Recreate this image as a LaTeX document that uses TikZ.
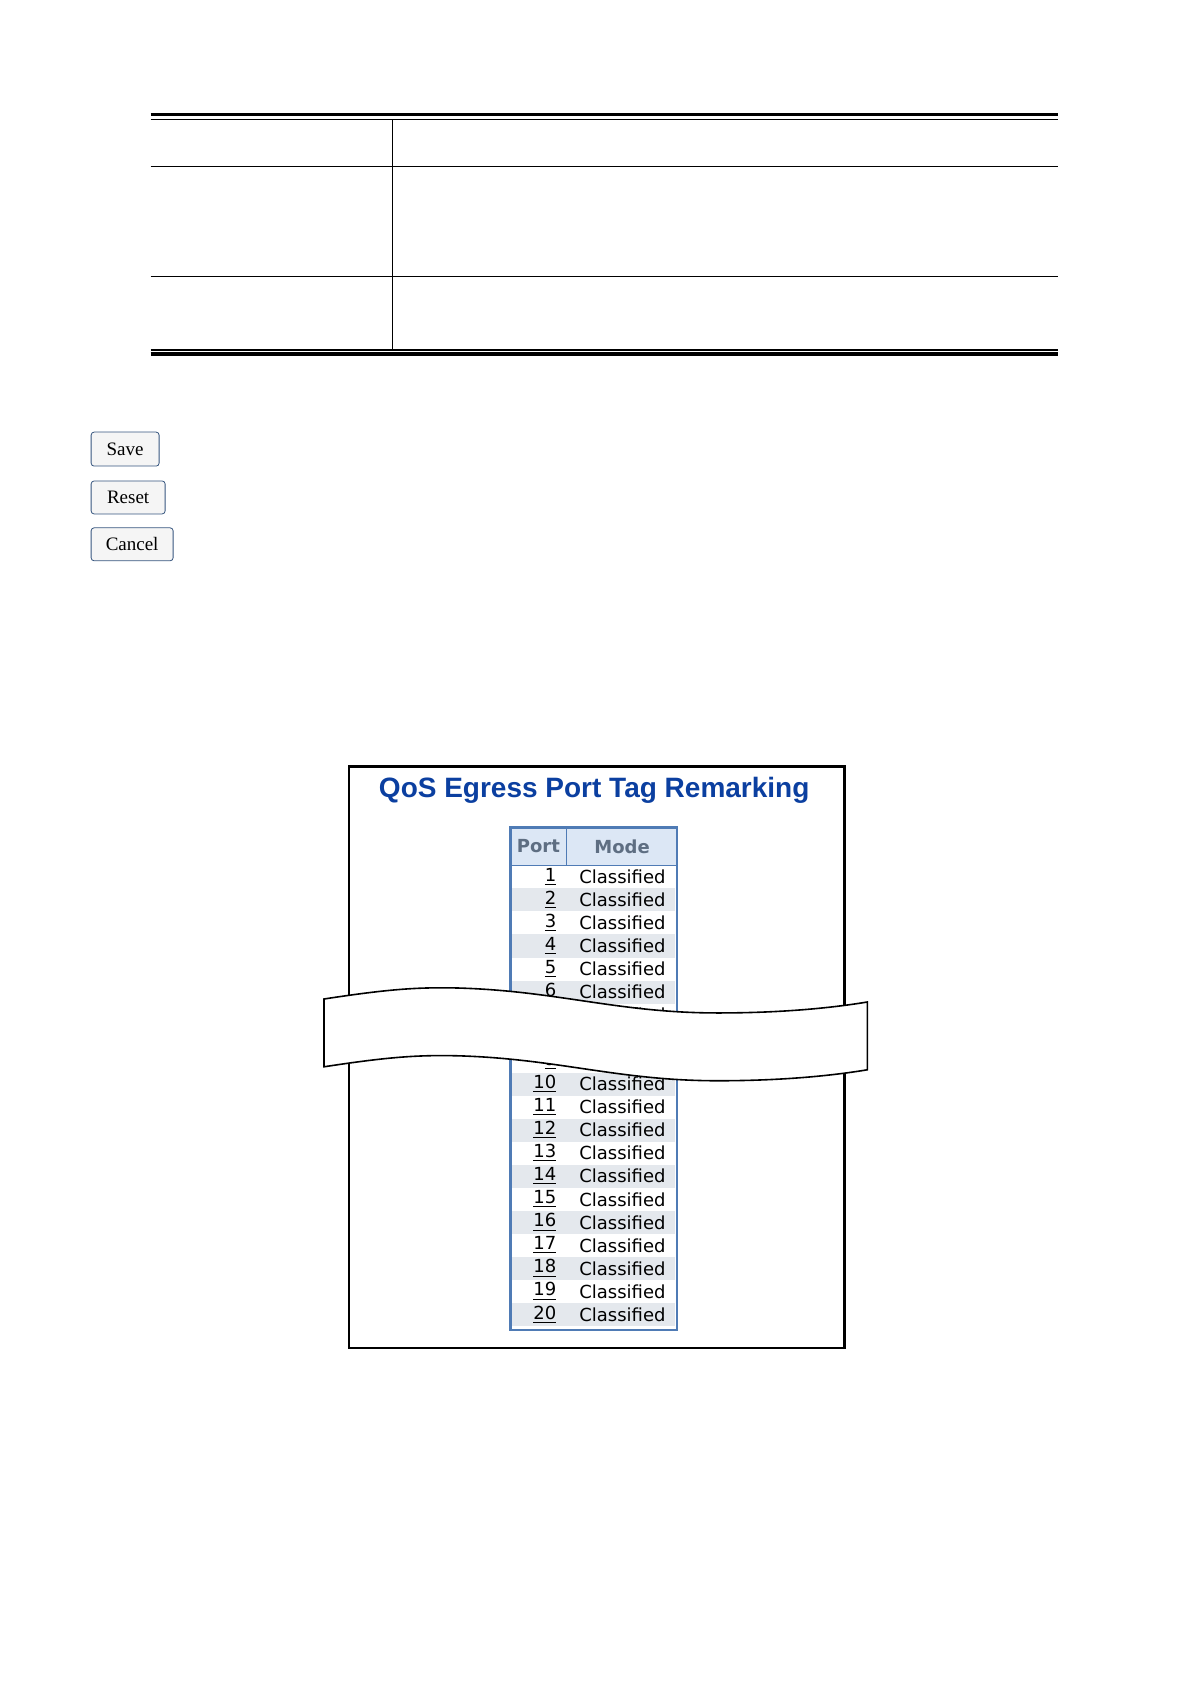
\documentclass[tikz,border=0pt]{standalone}
\usepackage{fontspec}
\setmainfont{Liberation Sans}
\newfontfamily\webfont{DejaVu Sans}
\newfontfamily\btnfont{Liberation Serif}
\usetikzlibrary{positioning}
\definecolor{qosblue}{HTML}{0B3FA0}
\definecolor{gridblue}{HTML}{4F7BB5}
\definecolor{headfill}{HTML}{DCE7F5}
\definecolor{rowgray}{HTML}{E4E8ED}
\definecolor{headtext}{HTML}{5E6E82}
\tikzset{
  btn/.style={draw=gridblue!70!black, fill=gray!8, rounded corners=1.5pt, anchor=north west,
    inner sep=0pt, font=\btnfont\fontsize{9.5}{10}\selectfont},
  portcell/.style={anchor=east, font=\webfont\fontsize{9}{10}\selectfont},
  modecell/.style={anchor=west, font=\webfont\fontsize{9}{10}\selectfont},
  headcell/.style={font=\webfont\bfseries\fontsize{9}{10}\selectfont, text=headtext}
}
\begin{document}
\begin{tikzpicture}[x=0.5pt,y=-0.5pt]
\useasboundingbox (0,0) rectangle (1191,1684);
\begin{scope}[xscale=0.997,yscale=0.997]
% parameter table
\draw[line width=1.6pt] (151,115) -- (1061,115);
\draw[line width=0.6pt] (151,120) -- (1061,120);
\draw[line width=0.5pt] (151,167) -- (1061,167);
\draw[line width=0.5pt] (151,277) -- (1061,277);
\draw[line width=0.6pt] (151,351) -- (1061,351);
\draw[line width=1.6pt] (151,355) -- (1061,355);
\draw[line width=0.5pt] (394,120) -- (394,351);

% buttons
\node[btn, minimum width=34pt, minimum height=17pt] (save) at (91,433) {Save};
\node[btn, minimum width=37pt, minimum height=16.5pt] (reset) at (91,482) {Reset};
\node[btn, minimum width=41pt, minimum height=16.5pt] (cancel) at (91,529) {Cancel};

% screenshot frame
\draw[line width=1.3pt] (350,769) rectangle (847,1352);
\node[font=\bfseries\fontsize{14}{16}\selectfont, text=qosblue] (title) at (596,793)
  {QoS Egress Port Tag Remarking};

% port table
\fill[headfill] (512,830) rectangle (679,868);
\node[headcell] (porthead) at (540,849) {Port};
\node[headcell] (modehead) at (624,849) {Mode};
\foreach \i in {1,...,20}{
  \pgfmathsetmacro{\yy}{868+(\i-1)*23.1}
  \ifodd\i\else
    \fill[rowgray] (514,\yy) rectangle (677,\yy+23.1);
  \fi
  \node[portcell] (port\i) at (565,\yy+11.5) {\underline{\i}};
  \node[modecell] (mode\i) at (574,\yy+11.5) {Classified};
}
\draw[gridblue, line width=1.2pt] (512,830) rectangle (679,1334);
\draw[gridblue, line width=0.8pt] (512,868) -- (679,868);
\draw[gridblue, line width=0.8pt] (568,830) -- (568,868);

% torn band
\draw[fill=white, line width=0.8pt] (325,1002)
  .. controls (390,992) and (420,990) .. (460,991)
  .. controls (560,994) and (620,1016) .. (720,1016)
  .. controls (790,1016) and (840,1010) .. (870,1005)
  -- (870,1073)
  .. controls (840,1078) and (790,1084) .. (720,1084)
  .. controls (620,1084) and (560,1062) .. (460,1059)
  .. controls (420,1058) and (390,1060) .. (325,1070) -- cycle;
\end{scope}
\end{tikzpicture}
\end{document}
